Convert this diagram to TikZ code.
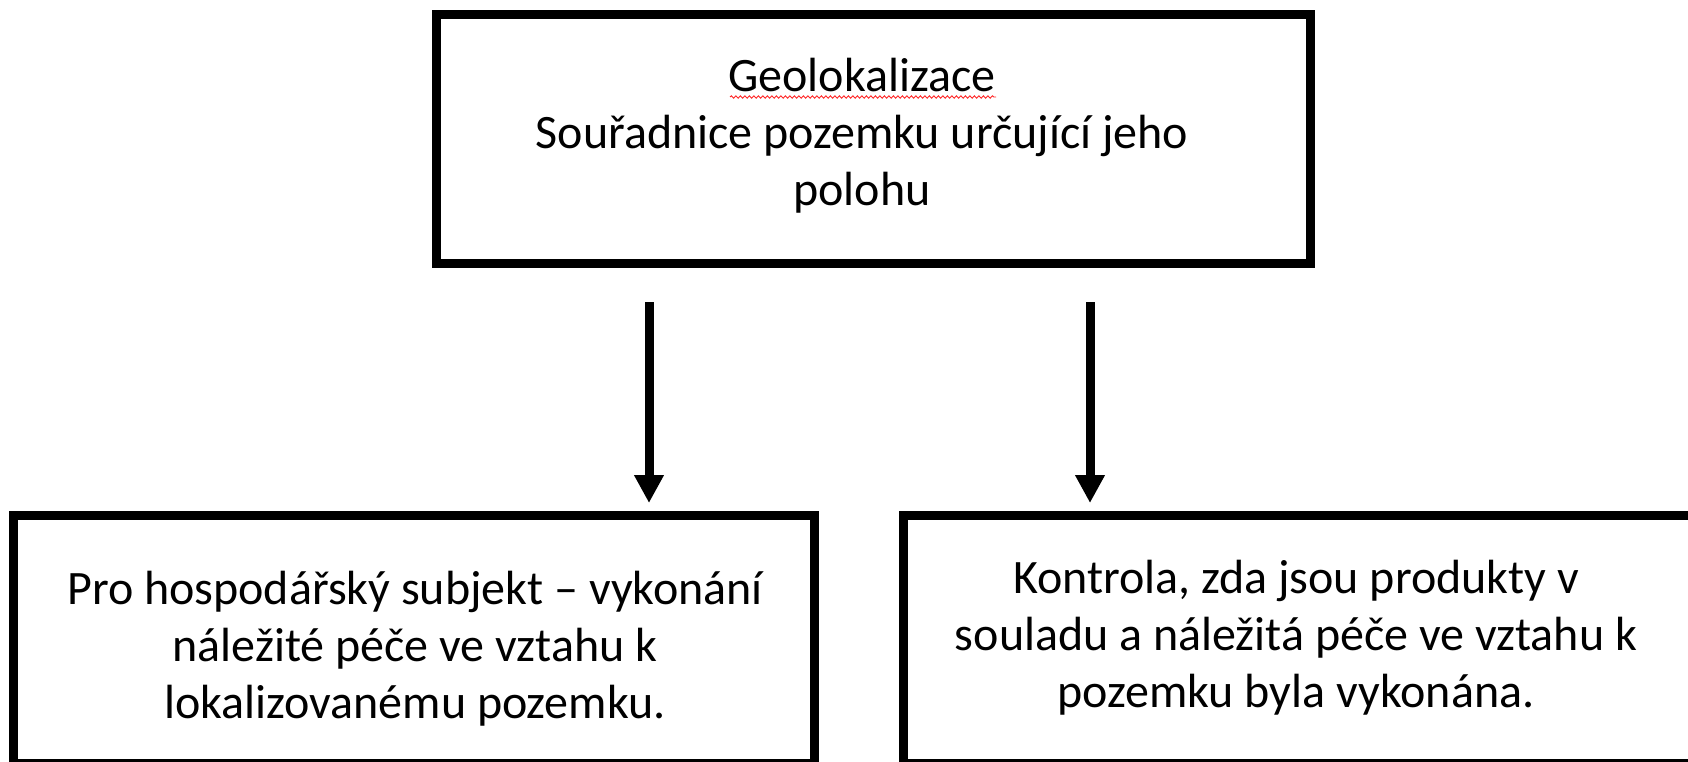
\documentclass[tikz,border=0pt]{standalone}
\usepackage{fontspec}
\setmainfont{Carlito}
\usetikzlibrary{arrows.meta,decorations.pathmorphing}
\tikzset{
  boxframe/.style={draw=black,line width=9pt,fill=none},
  boxtext/.style={font=\fontsize{48}{57}\selectfont,align=center,anchor=base,inner sep=0pt,text=black},
  arr/.style={line width=9pt,-{Triangle[length=28pt,width=28pt]}},
  spell/.style={draw=red!85!white,line width=0.9pt,decorate,decoration={snake,amplitude=1.2pt,segment length=4.5pt}}
}
\begin{document}
\begin{tikzpicture}[x=1pt,y=-1pt]
\useasboundingbox[fill=white] (0,0) rectangle (1688,761);
\begin{scope}
\clip (0,0) rectangle (1688,761);
% boxes
\draw[boxframe] (436.5,14.5) rectangle (1310.5,263.5);
\draw[boxframe] (13.5,515.5) rectangle (814.5,763);
\draw[boxframe] (903.5,515.5) rectangle (1720,763);
\end{scope}
% texts (anchor base = baseline of the last line)
\node[boxtext] (toptext) at (862,205) {Geolokalizace\\Souřadnice pozemku určující jeho\\polohu};
\node[boxtext] (lefttext) at (415,718) {Pro hospodářský subjekt – vykonání\\náležité péče ve vztahu k\\lokalizovanému pozemku.};
\node[boxtext] (righttext) at (1296,707) {Kontrola, zda jsou produkty v\\souladu a náležitá péče ve vztahu k\\pozemku byla vykonána.};
% spell-check underline
\coordinate (sp1) at (730,97);
\coordinate (sp2) at (996,97);
\draw[spell] (sp1) -- (sp2);
% arrows
\coordinate (a1s) at (649,302);
\coordinate (a1e) at (649,503);
\coordinate (a2s) at (1090,302);
\coordinate (a2e) at (1090,503);
\draw[arr] (a1s) -- (a1e);
\draw[arr] (a2s) -- (a2e);
\end{tikzpicture}
\end{document}
